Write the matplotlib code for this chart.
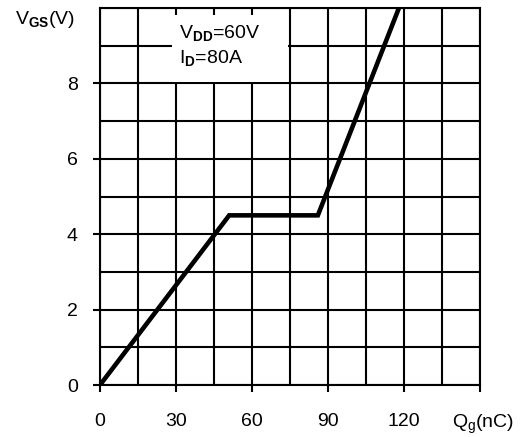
import matplotlib
matplotlib.use("Agg")
import matplotlib.pyplot as plt
from matplotlib.patches import Rectangle

plt.rcParams['font.family'] = ['Liberation Sans', 'DejaVu Sans']
plt.rcParams['mathtext.fontset'] = 'custom'
plt.rcParams['mathtext.rm'] = 'Liberation Sans'
plt.rcParams['mathtext.bf'] = 'Liberation Sans:bold'
plt.rcParams['mathtext.default'] = 'regular'

# Data
qg = [0, 51, 86, 118]          # nC
vgs = [0, 4.5, 4.5, 10]        # V
x_ticks = [0, 30, 60, 90, 120, 150]
x_labels = ['0', '30', '60', '90', '120', '']
y_ticks = [0, 2, 4, 6, 8]
y_labels = ['0', '2', '4', '6', '8']
cond_lines = [r'V$_{\mathbf{DD}}$=60V', r'I$_{\mathbf{D}}$=80A']

W, H = 528, 437
fig = plt.figure(figsize=(W / 100, H / 100), dpi=100)
ax = fig.add_axes([100 / W, (H - 385) / H, 380 / W, 377 / H])

ax.set_xlim(0, 150)
ax.set_ylim(0, 10)

ax.set_xticks(x_ticks)
ax.set_xticklabels(x_labels)
ax.set_xticks(range(0, 151, 15), minor=True)
ax.set_yticks(y_ticks)
ax.set_yticklabels(y_labels)
ax.set_yticks(range(0, 11), minor=True)

ax.grid(True, which='both', color='black', linewidth=1.5, zorder=1)
ax.tick_params(which='major', direction='out', length=5, width=1.5,
               labelsize=14, color='black')
ax.tick_params(axis='x', which='major', pad=15)
ax.tick_params(axis='y', which='major', pad=11)
ax.tick_params(which='minor', length=0)
for s in ax.spines.values():
    s.set_linewidth(1.5)
    s.set_color('black')
ax.set_axisbelow(True)

ax.plot(qg, vgs, color='black', linewidth=3.3, solid_capstyle='butt',
        solid_joinstyle='miter', zorder=4, clip_on=True)

# white box behind the condition text
ax.add_patch(Rectangle((28.3, 8.05), 46.0, 1.77, facecolor='white',
                       edgecolor='none', zorder=2))
ax.text(31, 9.2, cond_lines[0], fontsize=14, ha='left', va='baseline', zorder=3)
ax.text(31, 8.55, cond_lines[1], fontsize=14, ha='left', va='baseline', zorder=3)

fig.text(15 / W, 1 - 24 / H, r'V$_{\mathbf{GS}}$(V)', fontsize=14, ha='left', va='baseline')
fig.text(452 / W, 1 - 428 / H, 'Q$_{g}$(nC)', fontsize=14, ha='left', va='baseline')

fig.savefig('out.png', dpi=100)
